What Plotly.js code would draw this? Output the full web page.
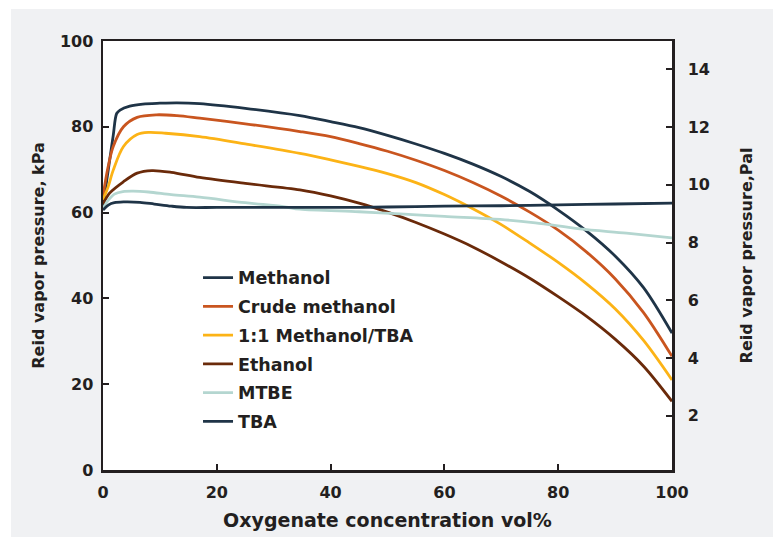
<!DOCTYPE html>
<html><head><meta charset="utf-8">
<script src="https://cdn.plot.ly/plotly-3.0.1.min.js"></script>
<style>html,body{margin:0;padding:0;background:#fff;} #chart{position:absolute;left:11px;top:9px;width:762px;height:528px;}</style>
</head><body><div id="chart"></div>
<script>
// Series data (x: oxygenate concentration vol%, y: Reid vapor pressure kPa)
const methanolX = [0, 0.6, 1.2, 1.8, 2.4, 3, 4.7, 7, 10, 13, 17, 25, 34.6, 40, 45, 50, 55, 60, 65, 70, 75, 80, 85, 90, 95, 100];
const methanolY = [61.5, 67, 72.5, 78, 83.1, 83.9, 84.8, 85.3, 85.5, 85.6, 85.4, 84.3, 82.6, 81.2, 79.8, 78.0, 76.0, 73.8, 71.3, 68.4, 64.9, 60.6, 55.7, 49.9, 42.5, 31.9];

const crudeX = [0, 0.9, 1.8, 3.6, 6, 9.4, 13, 17, 25, 34.6, 40, 45, 50, 55, 60, 65, 70, 75, 80, 85, 90, 95, 100];
const crudeY = [64, 70.7, 75.4, 80, 82.2, 82.8, 82.6, 82.0, 80.7, 78.9, 77.7, 76.1, 74.3, 72.2, 69.8, 67.0, 63.8, 60.1, 55.9, 50.8, 44.6, 36.7, 26.5];

const mixX = [0, 0.9, 1.8, 3.6, 6, 8, 11, 17, 25, 34.6, 40, 45, 50, 55, 60, 65, 70, 75, 80, 85, 90, 95, 100];
const mixY = [63, 66, 69.9, 75.4, 78.2, 78.7, 78.5, 77.7, 76, 73.8, 72.3, 70.8, 69.1, 67.0, 64.2, 60.9, 57.2, 52.9, 48.4, 43.4, 37.6, 30.2, 21];

const ethanolX = [0, 1.2, 3.6, 6, 8.6, 12, 17, 25, 34.6, 40, 45, 50, 55, 60, 65, 70, 75, 80, 85, 90, 95, 100];
const ethanolY = [62, 64.6, 67.2, 69.2, 69.8, 69.4, 68.2, 66.8, 65.3, 63.9, 62.2, 60.1, 57.7, 55.0, 52.0, 48.5, 44.7, 40.4, 35.8, 30.5, 24.2, 16];

const mtbeX = [0, 1, 2, 3.5, 5.3, 8, 12, 17, 25, 31.7, 34.6, 45, 52.2, 60, 69.8, 76, 83.8, 92, 100];
const mtbeY = [61, 63, 64.3, 64.9, 65, 64.8, 64.2, 63.6, 62.3, 61.4, 60.8, 60.2, 59.7, 59.1, 58.4, 57.6, 56.2, 55.2, 54.1];

const tbaX = [0, 1, 2, 3.6, 6.5, 9, 12, 14.7, 20, 30, 40, 50, 60, 70, 80, 90, 100];
const tbaY = [60.6, 61.8, 62.3, 62.5, 62.4, 62.0, 61.5, 61.2, 61.2, 61.2, 61.2, 61.3, 61.5, 61.6, 61.8, 62.0, 62.2];

const seriesNames = ["Methanol", "Crude methanol", "1:1 Methanol/TBA", "Ethanol", "MTBE", "TBA"];
const xTicks = [0, 20, 40, 60, 80, 100];
const yTicks = [0, 20, 40, 60, 80, 100];
const y2Ticks = [2, 4, 6, 8, 10, 12, 14];

const colors = ["#1f3447", "#c9551f", "#fcb316", "#6a2a0a", "#b4d6d0", "#1f3447"];
const xs = [methanolX, crudeX, mixX, ethanolX, mtbeX, tbaX];
const ys = [methanolY, crudeY, mixY, ethanolY, mtbeY, tbaY];

const traces = seriesNames.map((n, i) => ({
  type: "scatter", mode: "lines", name: n, x: xs[i], y: ys[i], legendgroup: "g" + i,
  line: {color: colors[i], width: 2.8, shape: "spline", smoothing: 0.9},
  hoverinfo: "x+y+name"
}));
// empty trace to activate the right-hand axis
traces.push({type: "scatter", mode: "lines", x: [null], y: [null], yaxis: "y2", showlegend: false, hoverinfo: "skip"});

const FAM = "DejaVu Sans, Open Sans, sans-serif";
const tickFont = {family: FAM, size: 16, color: "#231f20", weight: 700};
const yTitleFont = {family: FAM, size: 16, color: "#231f20", weight: 700};
const xTitleFont = {family: FAM, size: 19, color: "#231f20", weight: 700};

const layout = {
  width: 762, height: 528,
  paper_bgcolor: "#f0f1f3", plot_bgcolor: "#ffffff",
  margin: {l: 92, r: 101, t: 32, b: 67},
  showlegend: true,
  legend: {x: 0.167, y: 0.49, xanchor: "left", yanchor: "top", bgcolor: "rgba(0,0,0,0)",
           font: {family: FAM, size: 17.5, color: "#231f20", weight: 700},
           tracegroupgap: 3},
  xaxis: {range: [0, 100], tickvals: xTicks, ticktext: xTicks.map(String),
          showline: true, linecolor: "#231f20", linewidth: 2.5, mirror: true,
          ticks: "inside", ticklen: 6, tickwidth: 2, tickcolor: "#231f20",
          showgrid: false, zeroline: false, tickfont: tickFont, ticklabelstandoff: 6,
          title: {text: "Oxygenate concentration vol%", font: xTitleFont, standoff: 13}},
  yaxis: {range: [0, 100], tickvals: yTicks, ticktext: yTicks.map(String),
          showline: true, linecolor: "#231f20", linewidth: 2.5,
          ticks: "inside", ticklen: 6, tickwidth: 2, tickcolor: "#231f20",
          showgrid: false, zeroline: false, tickfont: tickFont, ticklabelstandoff: 4,
          title: {text: "Reid vapor pressure, kPa", font: yTitleFont, standoff: 12}},
  yaxis2: {range: [0.12, 14.98], overlaying: "y", side: "right", tickvals: y2Ticks, ticktext: y2Ticks.map(String),
          showline: true, linecolor: "#231f20", linewidth: 2.5,
          ticks: "inside", ticklen: 6, tickwidth: 2, tickcolor: "#231f20",
          showgrid: false, zeroline: false, tickfont: tickFont, ticklabelstandoff: 10,
          title: {text: "Reid vapor pressure,Pal", font: yTitleFont, standoff: 32}}
};

Plotly.newPlot("chart", traces, layout, {displayModeBar: false, staticPlot: true});
</script></body></html>
